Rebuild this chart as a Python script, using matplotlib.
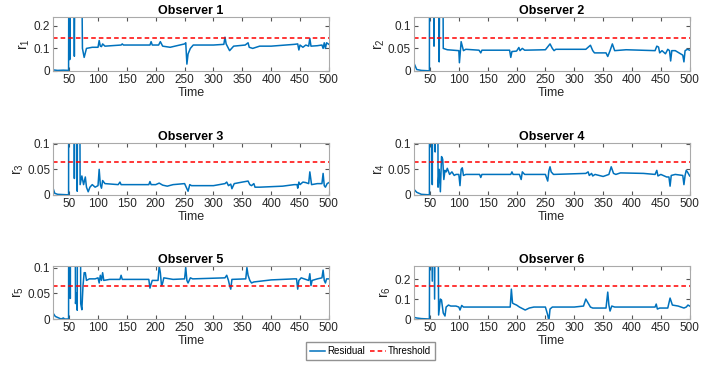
import matplotlib
matplotlib.use('Agg')
import matplotlib.pyplot as plt

plt.rcParams['font.family'] = ['Liberation Sans', 'DejaVu Sans']
plt.rcParams['mathtext.default'] = 'regular'

# residual samples (time, value); 1.0 = beyond the axis top
t1 = [23, 30, 40, 49, 50, 51, 53, 57, 59, 61, 70, 73, 76, 80, 90, 100, 102, 104, 106, 108, 112,
      140, 142, 144, 190, 192, 194, 205, 208, 212, 225, 250, 252, 254, 256, 260, 265, 300, 318,
      320, 322, 328, 335, 355, 360, 362, 368, 380, 400, 440, 446, 448, 450, 455, 460, 465, 467,
      469, 480, 488, 490, 492, 494, 496, 500]
r1 = [0.004, 0.002, 0.003, 0.002, 1.0, 0.05, 1.0, 1.0, 0.065, 1.0, 1.0, 0.1, 0.06, 0.1, 0.105,
      0.105, 0.135, 0.11, 0.108, 0.12, 0.11, 0.115, 0.12, 0.115, 0.115, 0.13, 0.115, 0.115, 0.13,
      0.11, 0.105, 0.12, 0.125, 0.03, 0.075, 0.1, 0.115, 0.115, 0.118, 0.15, 0.12, 0.09, 0.11,
      0.115, 0.125, 0.105, 0.1, 0.11, 0.11, 0.118, 0.12, 0.093, 0.115, 0.105, 0.115, 0.11, 0.145,
      0.11, 0.112, 0.115, 0.1, 0.125, 0.1, 0.125, 0.118]

t2 = [23, 27, 35, 49, 50, 53, 57, 59, 63, 66, 70, 73, 80, 100, 101, 104, 108, 112, 135, 138,
      140, 188, 190, 192, 200, 204, 206, 210, 214, 250, 258, 262, 265, 268, 320, 328, 332, 335,
      355, 358, 362, 366, 370, 390, 440, 443, 446, 448, 452, 458, 462, 465, 467, 469, 475, 488,
      490, 492, 496, 500]
r2 = [0.015, 0.003, 0.001, 0.0, 1.0, 1.0, 0.055, 1.0, 1.0, 0.02, 1.0, 0.05, 0.047, 0.045, 0.018,
      0.065, 0.045, 0.048, 0.046, 0.04, 0.046, 0.046, 0.03, 0.043, 0.044, 0.052, 0.045, 0.05,
      0.046, 0.047, 0.06, 0.05, 0.045, 0.048, 0.048, 0.057, 0.045, 0.04, 0.04, 0.032, 0.045,
      0.06, 0.045, 0.047, 0.045, 0.055, 0.053, 0.04, 0.045, 0.038, 0.048, 0.045, 0.022, 0.045,
      0.045, 0.035, 0.02, 0.045, 0.048, 0.046]

t3 = [23, 25, 30, 49, 50, 53, 57, 59, 62, 64, 66, 69, 72, 75, 78, 80, 83, 86, 90, 95, 100, 102,
      104, 106, 108, 112, 135, 138, 140, 145, 188, 190, 192, 200, 206, 212, 220, 230, 250, 254,
      256, 259, 262, 300, 320, 323, 326, 330, 332, 336, 350, 360, 363, 366, 370, 372, 380, 400,
      420, 440, 445, 446, 448, 450, 455, 460, 465, 467, 470, 480, 488, 490, 492, 494, 497, 500]
r3 = [0.01, 0.003, 0.001, 0.0, 1.0, 1.0, 1.0, 0.032, 1.0, 0.007, 1.0, 0.02, 0.037, 0.02, 0.035,
      0.015, 0.006, 0.015, 0.02, 0.015, 0.018, 0.05, 0.02, 0.013, 0.028, 0.022, 0.02, 0.025,
      0.02, 0.02, 0.02, 0.026, 0.02, 0.02, 0.023, 0.019, 0.017, 0.02, 0.022, 0.012, 0.007, 0.02,
      0.018, 0.018, 0.022, 0.025, 0.018, 0.021, 0.012, 0.022, 0.025, 0.027, 0.02, 0.018, 0.022,
      0.015, 0.015, 0.016, 0.017, 0.02, 0.02, 0.013, 0.025, 0.02, 0.025, 0.024, 0.022, 0.045,
      0.02, 0.022, 0.022, 0.042, 0.018, 0.015, 0.022, 0.024]

t4 = [23, 27, 35, 49, 50, 54, 57, 59, 62, 64, 66, 68, 70, 72, 74, 76, 78, 80, 84, 88, 92, 95,
      100, 102, 104, 106, 108, 112, 136, 138, 140, 190, 192, 194, 205, 208, 210, 214, 250, 254,
      256, 258, 260, 264, 320, 324, 326, 330, 332, 336, 350, 360, 364, 368, 372, 380, 420, 440,
      443, 445, 450, 460, 464, 466, 468, 475, 488, 490, 492, 494, 496, 500]
r4 = [0.01, 0.005, 0.001, 0.0, 1.0, 0.02, 1.0, 0.084, 1.0, 0.015, 0.05, 0.006, 0.075, 0.07,
      0.03, 0.048, 0.045, 0.052, 0.04, 0.045, 0.038, 0.04, 0.04, 0.018, 0.05, 0.053, 0.038, 0.04,
      0.04, 0.034, 0.04, 0.04, 0.045, 0.04, 0.04, 0.03, 0.045, 0.04, 0.04, 0.027, 0.047, 0.055,
      0.045, 0.04, 0.042, 0.045, 0.038, 0.042, 0.037, 0.04, 0.036, 0.04, 0.055, 0.042, 0.04,
      0.043, 0.042, 0.04, 0.048, 0.037, 0.04, 0.035, 0.035, 0.017, 0.038, 0.04, 0.038, 0.02,
      0.038, 0.048, 0.045, 0.037]

t5 = [23, 26, 30, 36, 40, 42, 49, 50, 52, 54, 58, 61, 63, 64, 66, 68, 70, 72, 74, 76, 78, 80,
      85, 95, 100, 102, 104, 106, 108, 110, 120, 138, 140, 142, 188, 190, 192, 194, 204, 206,
      208, 210, 212, 214, 230, 250, 252, 254, 256, 260, 264, 320, 323, 326, 328, 330, 332, 356,
      358, 360, 363, 366, 370, 400, 440, 444, 446, 448, 452, 465, 467, 469, 471, 480, 488, 490,
      492, 494, 496, 500]
r5 = [0.01, 0.005, 0.003, 0.0, 0.002, 0.0, 0.0, 1.0, 0.04, 1.0, 1.0, 0.03, 0.05, 0.017, 1.0,
      1.0, 0.03, 0.018, 0.065, 0.09, 0.09, 0.075, 0.078, 0.078, 0.08, 0.07, 0.085, 0.075, 0.09,
      0.075, 0.077, 0.077, 0.085, 0.077, 0.077, 0.06, 0.068, 0.075, 0.075, 0.103, 0.09, 0.065,
      0.07, 0.08, 0.077, 0.078, 0.1, 0.075, 0.07, 0.08, 0.078, 0.08, 0.085, 0.075, 0.065, 0.058,
      0.077, 0.078, 0.1, 0.085, 0.075, 0.07, 0.072, 0.076, 0.078, 0.078, 0.058, 0.075, 0.08,
      0.075, 0.088, 0.065, 0.075, 0.078, 0.08, 0.095, 0.075, 0.07, 0.078, 0.078]

t6 = [23, 27, 35, 49, 50, 54, 56, 58, 60, 63, 65, 68, 70, 73, 76, 78, 82, 86, 95, 100, 102, 105,
      108, 150, 189, 191, 193, 196, 200, 205, 215, 222, 230, 250, 254, 256, 258, 262, 300, 316,
      320, 324, 328, 332, 355, 358, 360, 362, 365, 370, 400, 440, 442, 444, 448, 462, 466, 470,
      480, 490, 494, 497, 500]
r6 = [0.008, 0.005, 0.002, 0.0, 1.0, 0.19, 1.0, 0.1, 1.0, 1.0, 0.02, 0.1, 0.095, 0.03, 0.015,
      0.06, 0.07, 0.065, 0.065, 0.06, 0.045, 0.068, 0.06, 0.06, 0.06, 0.15, 0.08, 0.075, 0.07,
      0.06, 0.045, 0.055, 0.06, 0.06, 0.02, -0.01, 0.05, 0.06, 0.06, 0.065, 0.1, 0.08, 0.06,
      0.055, 0.055, 0.135, 0.07, 0.04, 0.065, 0.06, 0.06, 0.06, 0.075, 0.05, 0.055, 0.055, 0.105,
      0.07, 0.065, 0.055, 0.06, 0.07, 0.065]

times = [t1, t2, t3, t4, t5, t6]
residuals = [r1, r2, r3, r4, r5, r6]
thresholds = [0.145, 0.074, 0.064, 0.064, 0.065, 0.168]
ytops = [0.24, 0.12, 0.102, 0.102, 0.103, 0.266]
yticks = [[0, 0.1, 0.2], [0, 0.05, 0.1], [0, 0.05, 0.1], [0, 0.05, 0.1], [0, 0.05, 0.1], [0, 0.1, 0.2]]
ytick_labels = [['0', '0.1', '0.2'], ['0', '0.05', '0.1'], ['0', '0.05', '0.1'],
                ['0', '0.05', '0.1'], ['0', '0.05', '0.1'], ['0', '0.1', '0.2']]

fig = plt.figure(figsize=(7.26, 3.69), dpi=100)

lefts = [0.073, 0.570]
rows = [(0.808, 0.146), (0.472, 0.141), (0.1355, 0.1436)]

for i in range(6):
    row, col = divmod(i, 2)
    ax = fig.add_axes([lefts[col], rows[row][0], 0.380, rows[row][1]])
    line_r, = ax.plot(times[i], residuals[i], color='#0072BD', lw=1.1, label='Residual')
    line_t = ax.axhline(thresholds[i], color='#FF0000', ls='--', lw=1.1, dashes=(3, 2),
                        label='Threshold')
    ax.set_xlim(22, 500)
    ax.set_ylim(0, ytops[i])
    ax.set_xticks(range(50, 501, 50))
    ax.set_yticks(yticks[i])
    ax.set_yticklabels(ytick_labels[i])
    ax.tick_params(direction='in', top=True, right=True, labelsize=8.5, length=3,
                   color='#555555', labelcolor='#262626', pad=2)
    for s in ax.spines.values():
        s.set_color('#aaaaaa')
        s.set_linewidth(0.8)
    ax.set_title('Observer %d' % (i + 1), fontsize=9, fontweight='bold', pad=2)
    ax.set_xlabel('Time', fontsize=9, labelpad=1, color='#262626')
    ax.set_ylabel('$r_%d$' % (i + 1), fontsize=10, labelpad=1, color='#262626')

fig.legend([line_r, line_t], ['Residual', 'Threshold'], loc='center', ncol=2,
           bbox_to_anchor=(0.51, 0.949 - 0.9), fontsize=7, frameon=True, fancybox=False,
           edgecolor='#777777', handlelength=1.6, handletextpad=0.2, columnspacing=0.5,
           borderpad=0.45, borderaxespad=0)

fig.savefig('out.png', dpi=100)
